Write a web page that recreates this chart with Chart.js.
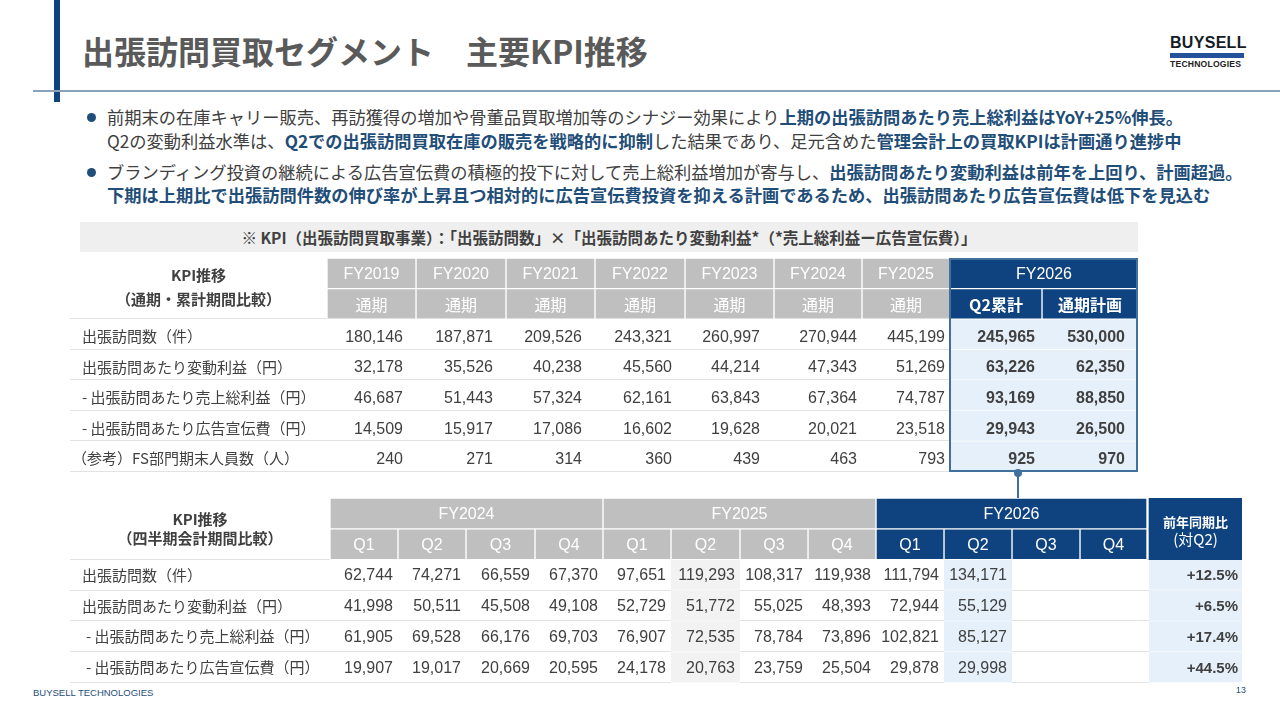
<!DOCTYPE html>
<html><head><meta charset="utf-8">
<script src="https://cdn.jsdelivr.net/npm/chart.js@4.4.1/dist/chart.umd.min.js"></script>
<style>
html,body{margin:0;padding:0;background:#fff;}
body{width:1280px;height:720px;position:relative;overflow:hidden;font-family:"Noto Sans CJK JP","Noto Sans",sans-serif;color:#404040;}
.a{position:absolute;white-space:nowrap;}
.bl{color:#1f4e79;font-weight:bold;}
.line{font-size:17.25px;line-height:24px;left:107px;}
.dot{width:9px;height:9px;border-radius:50%;background:#1f4e79;left:87px;}
canvas{position:absolute;}
</style></head><body>

<div class="a" style="left:54px;top:0;width:6px;height:102px;background:#0f437f;"></div>
<div class="a" style="left:33px;top:90px;width:1247px;height:2px;background:#8aa3ba;"></div>
<div class="a" style="left:82px;top:28px;font-size:32px;line-height:44px;font-weight:bold;color:#5a5a5a;">出張訪問買取セグメント　主要KPI推移</div>

<div class="a" style="left:1170px;top:35px;font:bold 16px/16px 'Liberation Sans',Arial,sans-serif;color:#141c28;letter-spacing:0.3px;">BUYSELL</div>
<div class="a" style="left:1170px;top:53px;width:74px;height:5px;background:#24529b;"></div>
<div class="a" style="left:1170px;top:60px;font:bold 8.6px/9px 'Liberation Sans',Arial,sans-serif;color:#222;letter-spacing:0.2px;">TECHNOLOGIES</div>

<div class="a dot" style="top:113px;"></div>
<div class="a line" style="top:105px;">前期末の在庫キャリー販売、再訪獲得の増加や骨董品買取増加等のシナジー効果により<span class="bl">上期の出張訪問あたり売上総利益はYoY+25%伸長。</span></div>
<div class="a line" style="top:129px;">Q2の変動利益水準は、<span class="bl">Q2での出張訪問買取在庫の販売を戦略的に抑制</span>した結果であり、足元含めた<span class="bl">管理会計上の買取KPIは計画通り進捗中</span></div>
<div class="a dot" style="top:168px;"></div>
<div class="a line" style="top:160px;">ブランディング投資の継続による広告宣伝費の積極的投下に対して売上総利益増加が寄与し、<span class="bl">出張訪問あたり変動利益は前年を上回り、計画超過。</span></div>
<div class="a line" style="top:183px;"><span class="bl">下期は上期比で出張訪問件数の伸び率が上昇且つ相対的に広告宣伝費投資を抑える計画であるため、出張訪問あたり広告宣伝費は低下を見込む</span></div>

<div class="a" style="left:80px;top:222px;width:1058px;height:30px;background:#efefef;text-align:center;font-size:15.5px;line-height:30px;font-weight:bold;color:#404040;">※ KPI（出張訪問買取事業）：「出張訪問数」×「出張訪問あたり変動利益*（*売上総利益ー広告宣伝費）」</div>

<canvas id="t1" width="1076" height="222" style="left:66px;top:254px;width:1076px;height:222px;"></canvas>
<canvas id="t2" width="1180" height="193" style="left:66px;top:494px;width:1180px;height:193px;"></canvas>

<div class="a" style="left:1017px;top:472px;width:2px;height:26px;background:#41709f;z-index:5;"></div>
<div class="a" style="left:1014px;top:469px;width:8px;height:8px;border-radius:50%;background:#41709f;z-index:5;"></div>

<div class="a" style="left:33px;top:688px;font:9.5px/10px 'Liberation Sans',Arial,sans-serif;color:#1f4e79;">BUYSELL TECHNOLOGIES</div>
<div class="a" style="left:1236px;top:685px;font:9px/10px 'Liberation Sans',Arial,sans-serif;color:#1f4e79;">13</div>

<script>
// ---------- DATA ----------
const t1Periods = ['FY2019','FY2020','FY2021','FY2022','FY2023','FY2024','FY2025'];
const t1SubLabel = '通期';
const t1PlanYear = 'FY2026';
const t1PlanCols = ['Q2累計','通期計画'];
const t1HeadTitle = ['KPI推移','（通期・累計期間比較）'];
const t1RowLabels = ['出張訪問数（件）','出張訪問あたり変動利益（円）','- 出張訪問あたり売上総利益（円）','- 出張訪問あたり広告宣伝費（円）','（参考）FS部門期末人員数（人）'];
const t1Visits      = [180146,187871,209526,243321,260997,270944,445199,245965,530000];
const t1VarProfit   = [32178,35526,40238,45560,44214,47343,51269,63226,62350];
const t1GrossProfit = [46687,51443,57324,62161,63843,67364,74787,93169,88850];
const t1AdCost      = [14509,15917,17086,16602,19628,20021,23518,29943,26500];
const t1Staff       = [240,271,314,360,439,463,793,925,970];

const t2Years = ['FY2024','FY2025','FY2026'];
const t2Quarters = ['Q1','Q2','Q3','Q4'];
const t2HeadTitle = ['KPI推移','（四半期会計期間比較）'];
const t2YoYHead = ['前年同期比','(対Q2)'];
const t2RowLabels = ['出張訪問数（件）','出張訪問あたり変動利益（円）','- 出張訪問あたり売上総利益（円）','- 出張訪問あたり広告宣伝費（円）'];
const t2Visits      = [62744,74271,66559,67370,97651,119293,108317,119938,111794,134171,null,null];
const t2VarProfit   = [41998,50511,45508,49108,52729,51772,55025,48393,72944,55129,null,null];
const t2GrossProfit = [61905,69528,66176,69703,76907,72535,78784,73896,102821,85127,null,null];
const t2AdCost      = [19907,19017,20669,20595,24178,20763,23759,25504,29878,29998,null,null];
const t2YoY         = [12.5,6.5,17.4,44.5];

// ---------- LAYOUT / STYLE ----------
const L1 = { labelW:257, colW:[89,90,89,90,89,88,88,92,96], padR:[13,13,13,13,14,5,5,7,13], labelDx:[12,12,12,12,2] };
const L2 = { labelW:260, colW:[68,68,69,68,68,69,68,68,68,68,68,67], gap:2, yoyW:93, padR:5, labelDx:[12,12,16,16] };
const C = { text:'#404040', white:'#ffffff', gray:'#bfbfbf', navy:'#0f437f', light:'#e6f0fa', lightGray:'#f2f2f2', line:'#e3e3e3', box:'#41709f' };
const FL = "'Liberation Sans', Arial, sans-serif";
const FJ = "'Noto Sans CJK JP', 'Noto Sans', sans-serif";
const fmt = v => v == null ? '' : v.toLocaleString('en-US');

function cumEdges(start, widths){ const e=[start]; widths.forEach(w=>e.push(e[e.length-1]+w)); return e; }
function bgBar(n, rows, x0, x1, color, bw){
  const data = Array(n).fill(null); rows.forEach(r => data[r] = [x0, x1]);
  return { data, backgroundColor:color, borderColor:'#ffffff', borderWidth:bw, borderSkipped:false,
           barPercentage:1, categoryPercentage:1, grouped:false };
}
const BOTTOM = {top:0,left:0,right:0,bottom:1};

function slot(y){ return y.getPixelForValue(1) - y.getPixelForValue(0); }
function rowPos(y, r){ return y.getPixelForValue(0) + r*slot(y); }
function rowEdge(y, k){ return y.getPixelForValue(0) - slot(y)/2 + k*slot(y); }

const tablePlugin = {
  id:'tableCells',
  beforeDatasetsDraw(chart, args, o){
    const {ctx, scales:{x,y}} = chart;
    ctx.save(); ctx.strokeStyle = C.line; ctx.lineWidth = 1;
    (o.lines||[]).forEach(k => {
      const py = Math.round(rowEdge(y, k)) - 0.5;
      ctx.beginPath(); ctx.moveTo(x.getPixelForValue(o.lineFrom), py); ctx.lineTo(x.getPixelForValue(o.lineTo), py); ctx.stroke();
    });
    ctx.restore();
  },
  afterDatasetsDraw(chart, args, o){
    const {ctx, scales:{x,y}} = chart;
    ctx.save();
    ctx.textBaseline = 'middle';
    (o.texts||[]).forEach(t => {
      ctx.font = t.font; ctx.fillStyle = t.color; ctx.textAlign = t.align;
      ctx.fillText(t.text, x.getPixelForValue(t.x), rowPos(y, t.row) + (t.dy||0));
    });
    if (o.box){
      ctx.strokeStyle = C.box; ctx.lineWidth = 2;
      const x0 = x.getPixelForValue(o.box.x0), x1 = x.getPixelForValue(o.box.x1);
      const y0 = rowEdge(y, o.box.r0), y1 = rowEdge(y, o.box.r1);
      ctx.strokeRect(x0, y0+1, x1-x0-1, y1-y0-2);
    }
    ctx.restore();
  }
};

function makeChart(id, labels, xMax, datasets, pluginOpts){
  return new Chart(document.getElementById(id), {
    type:'bar',
    data:{ labels, datasets },
    options:{
      indexAxis:'y', responsive:false, animation:false, devicePixelRatio:1,
      layout:{ padding:4 },
      events:[],
      plugins:{ legend:{display:false}, tooltip:{enabled:false}, tableCells:pluginOpts },
      scales:{
        x:{ type:'linear', min:0, max:xMax, display:false },
        y:{ type:'category', display:false, offset:true }
      }
    },
    plugins:[tablePlugin]
  });
}

// ---------- TABLE 1 ----------
(function(){
  const e = cumEdges(L1.labelW, L1.colW);
  const n = 2 + t1RowLabels.length;
  const labels = ['h1','h2', ...t1RowLabels];
  const rowsVals = [t1Visits, t1VarProfit, t1GrossProfit, t1AdCost, t1Staff];
  const ds = [];
  t1Periods.forEach((p,i) => ds.push(bgBar(n,[0,1], e[i], e[i+1], C.gray, 1)));
  const k = t1Periods.length;
  ds.push(bgBar(n,[0], e[k], e[k+2], C.navy, 1));
  t1PlanCols.forEach((p,j) => ds.push(bgBar(n,[1], e[k+j], e[k+j+1], C.navy, 1)));
  ds.push(bgBar(n,[2,3,4,5,6], e[k], e[k+2], C.light, BOTTOM));

  const texts = [];
  texts.push({x:L1.labelW/2, row:0.5, dy:-13, text:t1HeadTitle[0], align:'center', font:`bold 15px ${FJ}`, color:C.text});
  texts.push({x:L1.labelW/2, row:0.5, dy:11, text:t1HeadTitle[1], align:'center', font:`bold 15px ${FJ}`, color:C.text});
  t1Periods.forEach((p,i) => {
    texts.push({x:(e[i]+e[i+1])/2, row:0, dy:1, text:p, align:'center', font:`16px ${FL}`, color:C.white});
    texts.push({x:(e[i]+e[i+1])/2, row:1, dy:1, text:t1SubLabel, align:'center', font:`16px ${FJ}`, color:C.white});
  });
  texts.push({x:(e[k]+e[k+2])/2, row:0, dy:1, text:t1PlanYear, align:'center', font:`16px ${FL}`, color:C.white});
  t1PlanCols.forEach((p,j) => texts.push({x:(e[k+j]+e[k+j+1])/2, row:1, dy:1, text:p, align:'center', font:`bold 16px ${FJ}`, color:C.white}));
  t1RowLabels.forEach((lab,r) => {
    texts.push({x:L1.labelDx[r], row:r+2, dy:2, text:lab, align:'left', font:`15px ${FJ}`, color:C.text});
    rowsVals[r].forEach((v,i) => {
      texts.push({x:e[i+1]-L1.padR[i], row:r+2, dy:3, text:fmt(v), align:'right',
        font:(i>=k?'bold ':'')+`16px ${FL}`, color:C.text});
    });
  });
  makeChart('t1', labels, e[e.length-1], ds, {
    texts, lines:[2,3,4,5,6,7], lineFrom:0, lineTo:e[k],
    box:{x0:e[k], x1:e[k+2], r0:0, r1:n}
  });
})();

// ---------- TABLE 2 ----------
(function(){
  const qW = [];
  t2Years.forEach((y,yi) => t2Quarters.forEach((q,qi) => qW.push(L2.colW[yi*4+qi])));
  const e = cumEdges(L2.labelW, qW);
  const nq = qW.length;
  const y0 = e[nq] + L2.gap, y1 = y0 + L2.yoyW;
  const n = 2 + t2RowLabels.length;
  const labels = ['h1','h2', ...t2RowLabels];
  const rowsVals = [t2Visits, t2VarProfit, t2GrossProfit, t2AdCost];
  const last = t2Years.length - 1;
  const ds = [];
  t2Years.forEach((yr,yi) => {
    const col = yi === last ? C.navy : C.gray;
    ds.push(bgBar(n,[0], e[yi*4], e[yi*4+4], col, 1));
    t2Quarters.forEach((q,qi) => ds.push(bgBar(n,[1], e[yi*4+qi], e[yi*4+qi+1], col, 1)));
  });
  ds.push(bgBar(n,[0,1], y0, y1, C.navy, 0));
  const prevQ2 = (last-1)*4 + 1, curQ2 = last*4 + 1;
  ds.push(bgBar(n,[2,3,4,5], e[prevQ2], e[prevQ2+1], C.lightGray, BOTTOM));
  ds.push(bgBar(n,[2,3,4,5], e[curQ2], e[curQ2+1], C.light, BOTTOM));
  ds.push(bgBar(n,[2,3,4,5], y0, y1, C.light, BOTTOM));

  const texts = [];
  texts.push({x:L2.labelW/2, row:0.5, dy:-10, text:t2HeadTitle[0], align:'center', font:`bold 15px ${FJ}`, color:C.text});
  texts.push({x:L2.labelW/2, row:0.5, dy:9, text:t2HeadTitle[1], align:'center', font:`bold 15px ${FJ}`, color:C.text});
  t2Years.forEach((yr,yi) => {
    texts.push({x:(e[yi*4]+e[yi*4+4])/2, row:0, dy:1, text:yr, align:'center', font:`16px ${FL}`, color:C.white});
    t2Quarters.forEach((q,qi) => texts.push({x:(e[yi*4+qi]+e[yi*4+qi+1])/2, row:1, dy:1, text:q, align:'center', font:`16px ${FL}`, color:C.white}));
  });
  texts.push({x:(y0+y1)/2, row:0.5, dy:-7, text:t2YoYHead[0], align:'center', font:`bold 13px ${FJ}`, color:C.white});
  texts.push({x:(y0+y1)/2, row:0.5, dy:10, text:t2YoYHead[1], align:'center', font:`15px ${FJ}`, color:C.white});
  t2RowLabels.forEach((lab,r) => {
    texts.push({x:L2.labelDx[r], row:r+2, dy:0, text:lab, align:'left', font:`15px ${FJ}`, color:C.text});
    rowsVals[r].forEach((v,i) => {
      if (v == null) return;
      texts.push({x:e[i+1]-L2.padR, row:r+2, dy:1, text:fmt(v), align:'right', font:`16px ${FL}`, color:C.text});
    });
    texts.push({x:y1-4, row:r+2, dy:1, text:'+' + t2YoY[r].toFixed(1) + '%', align:'right', font:`bold 15px ${FL}`, color:C.text});
  });
  makeChart('t2', labels, y1, ds, { texts, lines:[2,3,4,5,6], lineFrom:0, lineTo:y1 });
})();
</script>
</body></html>
